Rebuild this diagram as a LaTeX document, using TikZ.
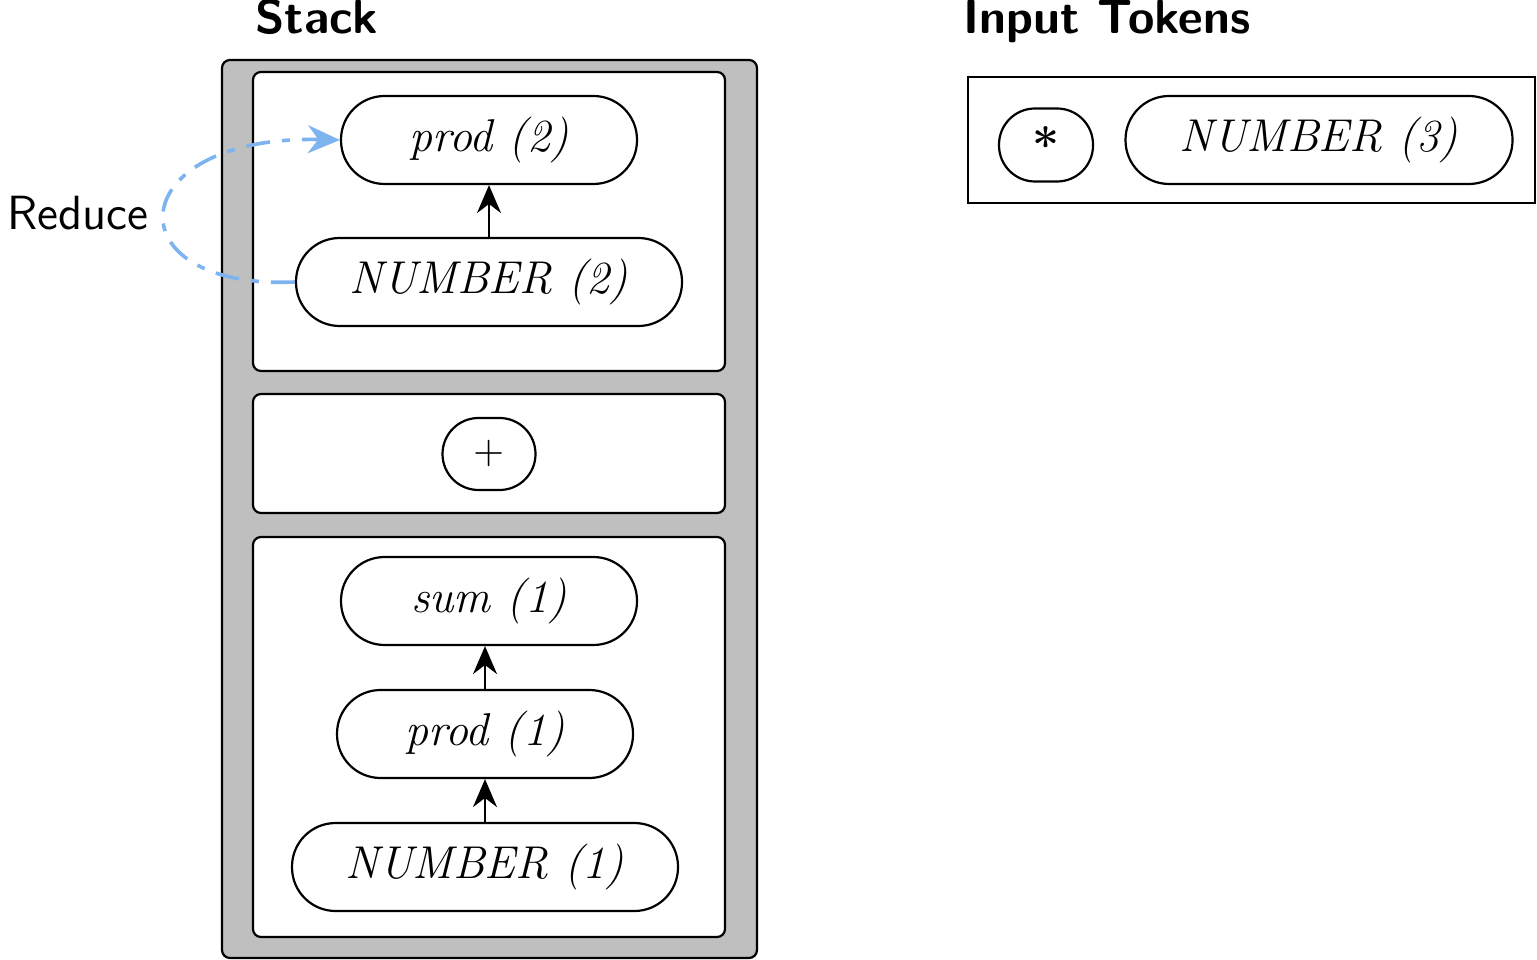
\documentclass[tikz,border=0pt]{standalone}
\usetikzlibrary{arrows.meta}
\begin{document}
\begin{tikzpicture}[x=0.25pt,y=-0.25pt,
  pill/.style={draw,line width=0.55pt,rounded corners=10.9pt,inner sep=0pt,minimum height=22pt,font=\fontsize{11.5}{13}\selectfont\itshape},
  frame/.style={draw,line width=0.55pt,fill=white,rounded corners=2pt},
  ttl/.style={font=\sffamily\bfseries\large,anchor=base},
  arr/.style={-{Stealth[length=7pt,width=6pt]},line width=0.5pt}]
\useasboundingbox (0,0) rectangle (1537,960);
\definecolor{redblue}{RGB}{125,180,240}
\draw[line width=0.55pt,fill=black!25,rounded corners=2pt] (222,60) rectangle (757,958);
\draw[frame] (253,72) rectangle (725,371);
\draw[frame] (253,394) rectangle (725,513);
\draw[frame] (253,537) rectangle (725,937);
\draw[line width=0.55pt] (968,77) rectangle (1535,203);
\node[pill,minimum width=74pt] (p2) at (489,140) {prod (2)};
\node[pill,minimum width=96.5pt] (n2) at (489,282) {NUMBER (2)};
\node[pill,minimum width=23.25pt,minimum height=18pt,rounded corners=9pt,font=\normalsize] (plus) at (489,454) {+};
\node[pill,minimum width=74pt] (s1) at (489,601) {sum (1)};
\node[pill,minimum width=74pt] (p1) at (485,734) {prod (1)};
\node[pill,minimum width=96.5pt] (n1) at (485,867) {NUMBER (1)};
\node[pill,minimum width=23.5pt,minimum height=18.25pt,rounded corners=9pt,font=\large\bfseries] (star) at (1046,145) {*};
\node[pill,minimum width=96.75pt] (n3) at (1319,140) {NUMBER (3)};
\node[ttl] (st) at (317,34) {Stack};
\node[ttl] (it) at (1107,34) {Input Tokens};
\node[font=\sffamily\large] (red) at (78,213) {Reduce};
\draw[arr] (n2.north) -- (p2.south);
\draw[arr] (p1.north) -- (p1.north |- s1.south);
\draw[arr] (n1.north) -- (p1.south);
\draw[draw=redblue,line width=0.9pt,dash pattern=on 6pt off 3pt on 2pt off 3pt,-{Stealth[length=8pt,width=7pt]}]
  (n2.west) .. controls (110,290) and (120,135) .. (p2.west);
\end{tikzpicture}
\end{document}
